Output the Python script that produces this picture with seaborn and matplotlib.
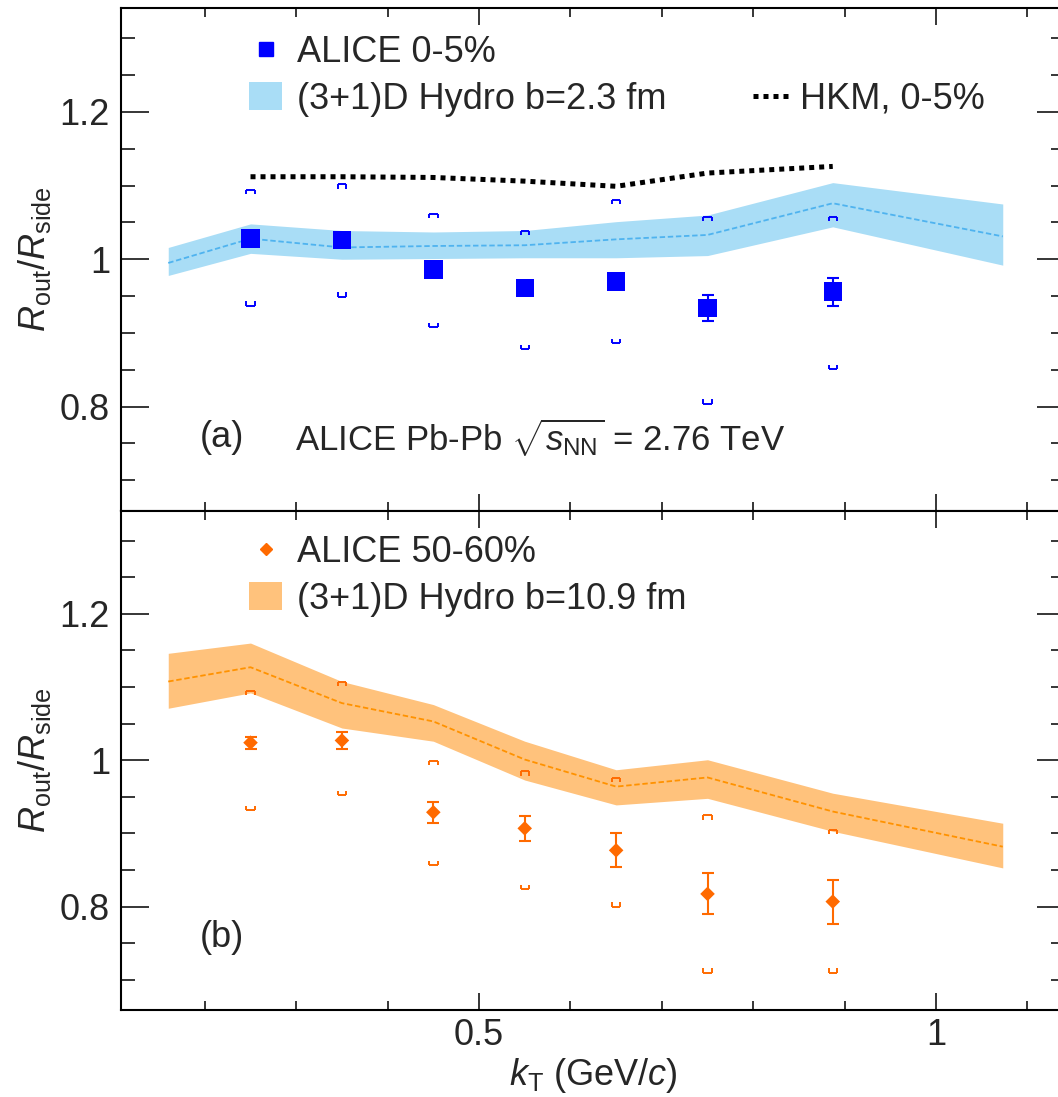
import numpy as np
import matplotlib
matplotlib.use("Agg")
import matplotlib.pyplot as plt
import seaborn as sns
from matplotlib.lines import Line2D
from matplotlib.patches import Patch
from matplotlib.ticker import FixedLocator, FuncFormatter

# ---------------- data ----------------
kt = [0.25, 0.35, 0.45, 0.55, 0.65, 0.75, 0.887]

# (a) ALICE 0-5%
central_ratio = [1.028, 1.026, 0.986, 0.961, 0.970, 0.934, 0.956]
central_stat = [0.006, 0.006, 0.007, 0.008, 0.010, 0.018, 0.019]
central_sys_hi = [1.094, 1.102, 1.062, 1.039, 1.081, 1.058, 1.058]
central_sys_lo = [0.937, 0.949, 0.908, 0.878, 0.886, 0.804, 0.851]

# HKM 0-5%
hkm_ratio = [1.112, 1.112, 1.111, 1.106, 1.099, 1.117, 1.126]

# (3+1)D hydro curves
kt_hydro = [0.16, 0.25, 0.35, 0.45, 0.55, 0.65, 0.75, 0.887, 1.073]
hydro_c_mid = [0.995, 1.028, 1.016, 1.018, 1.019, 1.027, 1.033, 1.076, 1.031]
hydro_c_lo = [0.978, 1.008, 1.000, 1.001, 1.002, 1.002, 1.005, 1.044, 0.992]
hydro_c_hi = [1.016, 1.048, 1.039, 1.037, 1.039, 1.051, 1.060, 1.104, 1.075]

# (b) ALICE 50-60%
periph_ratio = [1.024, 1.027, 0.929, 0.907, 0.877, 0.8175, 0.807]
periph_stat = [0.008, 0.012, 0.014, 0.017, 0.023, 0.028, 0.030]
periph_sys_hi = [1.095, 1.107, 0.999, 0.985, 0.976, 0.925, 0.905]
periph_sys_lo = [0.932, 0.952, 0.857, 0.824, 0.800, 0.710, 0.710]

hydro_p_mid = [1.1075, 1.127, 1.078, 1.053, 1.001, 0.964, 0.9765, 0.930, 0.882]
hydro_p_lo = [1.071, 1.092, 1.044, 1.026, 0.973, 0.939, 0.948, 0.903, 0.853]
hydro_p_hi = [1.146, 1.160, 1.1075, 1.076, 1.026, 0.987, 1.0007, 0.955, 0.914]

y_major = [0.8, 1.0, 1.2]
y_major_labels = ["0.8", "1", "1.2"]
x_major = [0.5, 1.0]
x_major_labels = ["0.5", "1"]

# ---------------- style ----------------
sns.set_theme(style="ticks")
plt.rcParams["font.family"] = ["Liberation Sans", "DejaVu Sans"]
plt.rcParams["mathtext.fontset"] = "custom"
plt.rcParams["mathtext.rm"] = "Liberation Sans"
plt.rcParams["mathtext.it"] = "Liberation Sans:italic"
plt.rcParams["mathtext.bf"] = "Liberation Sans:bold"
plt.rcParams["axes.linewidth"] = 1.5

BLUE = "#0000ff"
BLUE_BAND = "#a9ddf6"
BLUE_LINE = "#4fb3ef"
ORANGE = "#ff6a00"
ORANGE_BAND = "#ffc27c"
ORANGE_LINE = "#ff9200"
FS = 26

W, H = 1058, 1097
fig = plt.figure(figsize=(W / 100, H / 100), dpi=100)
L, R = 121, 1065
T, M, B = 8, 510.5, 1010
ax_top = fig.add_axes([L / W, 1 - M / H, (R - L) / W, (M - T) / H])
ax_bot = fig.add_axes([L / W, 1 - B / H, (R - L) / W, (B - M) / H], sharex=ax_top)

BW = 0.0046   # half width of systematic bracket
BH = 0.0060   # leg length of bracket


def draw_syst(ax, x, hi, lo, color):
    x = np.asarray(x)
    hi = np.asarray(hi)
    lo = np.asarray(lo)
    ax.hlines(hi, x - BW, x + BW, color=color, lw=1.4, zorder=4)
    ax.vlines(np.r_[x - BW, x + BW], np.r_[hi, hi], np.r_[hi - BH, hi - BH],
              color=color, lw=1.4, zorder=4)
    ax.hlines(lo, x - BW, x + BW, color=color, lw=1.4, zorder=4)
    ax.vlines(np.r_[x - BW, x + BW], np.r_[lo, lo], np.r_[lo + BH, lo + BH],
              color=color, lw=1.4, zorder=4)


def band(ax, lo, mid, hi, fc, lc):
    ax.fill_between(kt_hydro, lo, hi, color=fc, lw=0, zorder=1)
    sns.lineplot(x=kt_hydro, y=mid, ax=ax, color=lc, lw=1.3, ls=(0, (3, 1.5)),
                 sort=False, estimator=None, zorder=2)


# ---- top panel ----
band(ax_top, hydro_c_lo, hydro_c_mid, hydro_c_hi, BLUE_BAND, BLUE_LINE)
sns.lineplot(x=kt, y=hkm_ratio, ax=ax_top, color="black", lw=3.6,
             ls=(0, (1, 1)), sort=False, estimator=None, zorder=3,
             dash_capstyle="butt")
draw_syst(ax_top, kt, central_sys_hi, central_sys_lo, BLUE)
ax_top.errorbar(kt, central_ratio, yerr=central_stat, fmt="none", ecolor=BLUE,
                elinewidth=1.5, capsize=4, capthick=1.5, zorder=5)
sns.scatterplot(x=kt, y=central_ratio, ax=ax_top, marker="s", s=175,
                color=BLUE, edgecolor="none", zorder=6, legend=False)

# ---- bottom panel ----
band(ax_bot, hydro_p_lo, hydro_p_mid, hydro_p_hi, ORANGE_BAND, ORANGE_LINE)
draw_syst(ax_bot, kt, periph_sys_hi, periph_sys_lo, ORANGE)
ax_bot.errorbar(kt, periph_ratio, yerr=periph_stat, fmt="none", ecolor=ORANGE,
                elinewidth=1.5, capsize=4, capthick=1.5, zorder=5)
sns.scatterplot(x=kt, y=periph_ratio, ax=ax_bot, marker="D", s=55,
                color=ORANGE, edgecolor="none", zorder=6, legend=False)

# ---- axes ----
for ax in (ax_top, ax_bot):
    ax.set_xlim(0.1083, 1.1411)
    ax.set_ylim(0.659, 1.341)
    ax.yaxis.set_major_locator(FixedLocator(y_major))
    ax.yaxis.set_major_formatter(FuncFormatter(
        lambda v, p: y_major_labels[y_major.index(round(v, 2))] if round(v, 2) in y_major else ""))
    ax.yaxis.set_minor_locator(FixedLocator(np.arange(0.70, 1.31, 0.05)))
    ax.xaxis.set_major_locator(FixedLocator(x_major))
    ax.xaxis.set_minor_locator(FixedLocator(np.arange(0.2, 1.15, 0.1)))
    ax.tick_params(axis="both", which="both", direction="in", top=True,
                   right=True, color="black", width=1.1)
    ax.tick_params(axis="y", which="major", length=20, labelsize=FS, pad=8)
    ax.tick_params(axis="y", which="minor", length=10)
    ax.tick_params(axis="x", which="major", length=12, labelsize=FS, pad=6)
    ax.tick_params(axis="x", which="minor", length=6.5)
    ax.set_ylabel(r"$R_{\mathrm{out}}/R_{\mathrm{side}}$", fontsize=FS, labelpad=5)
    for s in ax.spines.values():
        s.set_color("black")
        s.set_linewidth(1.5)
    ax.set_facecolor("white")

ax_top.tick_params(axis="x", labelbottom=False)
ax_bot.xaxis.set_major_formatter(FuncFormatter(
    lambda v, p: x_major_labels[x_major.index(round(v, 2))] if round(v, 2) in x_major else ""))
ax_bot.set_xlabel(r"$k_{\mathrm{T}}$ (GeV/$c$)", fontsize=FS, labelpad=2)

# ---- texts ----
ax_top.text(0.0837, 0.145, "(a)", transform=ax_top.transAxes, fontsize=FS,
            va="center", ha="left")
ax_top.text(0.184, 0.145, r"ALICE Pb-Pb $\sqrt{s_{\mathrm{NN}}}$ = 2.76 TeV",
            transform=ax_top.transAxes, fontsize=25, va="center", ha="left")
ax_bot.text(0.0837, 0.146, "(b)", transform=ax_bot.transAxes, fontsize=FS,
            va="center", ha="left")

# ---- legends ----
leg_kw = dict(loc="upper left", frameon=False, borderpad=0, borderaxespad=0,
              handlelength=0.92, handleheight=0.8, handletextpad=0.42,
              labelspacing=0.32, fontsize=FS)
h1 = Line2D([], [], marker="s", ls="none", color=BLUE, markersize=10.5)
h2 = Patch(facecolor=BLUE_BAND, edgecolor="none")
h3 = Line2D([], [], ls=(0, (1, 1)), lw=3.6, color="black", dash_capstyle="butt")
leg_hkm = dict(leg_kw)
leg_hkm.update(handlelength=0.97, handletextpad=0.33)
hk = ax_top.legend([h3], ["HKM, 0-5%"], bbox_to_anchor=(0.6695, 0.853), **leg_hkm)
ax_top.add_artist(hk)
ax_top.legend([h1, h2], ["ALICE 0-5%", "(3+1)D Hydro b=2.3 fm"],
              bbox_to_anchor=(0.1356, 0.946), **leg_kw)

h4 = Line2D([], [], marker="D", ls="none", color=ORANGE, markersize=6)
h5 = Patch(facecolor=ORANGE_BAND, edgecolor="none")
ax_bot.legend([h4, h5], ["ALICE 50-60%", "(3+1)D Hydro b=10.9 fm"],
              bbox_to_anchor=(0.1356, 0.951), **leg_kw)

fig.savefig("out.png", dpi=100, facecolor="white")
